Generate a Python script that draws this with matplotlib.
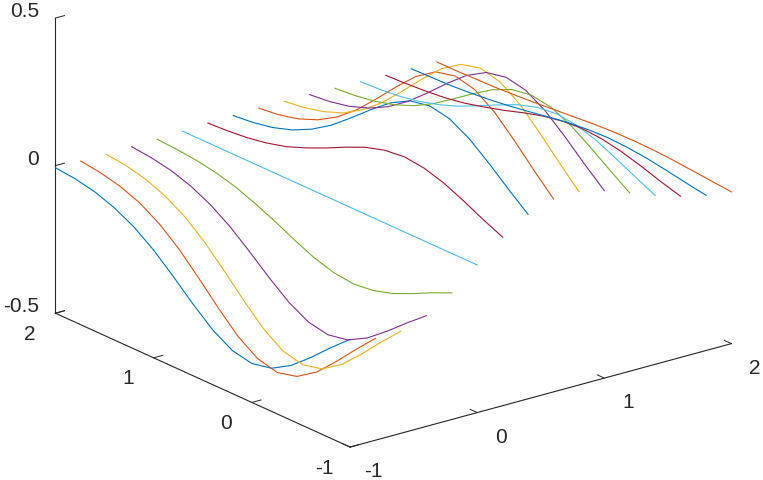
import matplotlib
matplotlib.use("Agg")
import matplotlib.pyplot as plt

plt.rcParams["font.family"] = ["Liberation Sans", "DejaVu Sans"]
plt.rcParams["axes.unicode_minus"] = False

# one line per x value, z read along y = 2 ... -1
x_vals = [-1.0, -0.8, -0.6, -0.4, -0.2, 0.0, 0.2, 0.4, 0.6, 0.8, 1.0, 1.2, 1.4, 1.6, 1.8, 2.0]
y_vals = [2.0, 1.8, 1.6, 1.4, 1.2, 1.0, 0.8, 0.6, 0.4, 0.2, 0.0, -0.2, -0.4, -0.6, -0.8, -1.0]

z_01 = [-0.007, -0.014, -0.028, -0.052, -0.087, -0.135, -0.194, -0.257, -0.314, -0.354, -0.368, -0.354, -0.314, -0.257, -0.194, -0.135]
z_02 = [-0.008, -0.017, -0.033, -0.059, -0.100, -0.155, -0.223, -0.294, -0.360, -0.405, -0.422, -0.405, -0.360, -0.294, -0.223, -0.155]
z_03 = [-0.008, -0.016, -0.032, -0.059, -0.099, -0.154, -0.221, -0.292, -0.357, -0.403, -0.419, -0.403, -0.357, -0.292, -0.221, -0.154]
z_04 = [-0.006, -0.013, -0.026, -0.048, -0.081, -0.125, -0.180, -0.238, -0.291, -0.328, -0.341, -0.328, -0.291, -0.238, -0.180, -0.125]
z_05 = [-0.004, -0.008, -0.015, -0.027, -0.045, -0.071, -0.101, -0.134, -0.164, -0.184, -0.192, -0.184, -0.164, -0.134, -0.101, -0.071]
z_06 = [0.000, 0.000, 0.000, 0.000, 0.000, 0.000, 0.000, 0.000, 0.000, 0.000, 0.000, 0.000, 0.000, 0.000, 0.000, 0.000]
z_07 = [0.004, 0.008, 0.015, 0.027, 0.045, 0.071, 0.101, 0.134, 0.164, 0.184, 0.192, 0.184, 0.164, 0.134, 0.101, 0.071]
z_08 = [0.006, 0.013, 0.026, 0.048, 0.081, 0.125, 0.180, 0.238, 0.291, 0.328, 0.341, 0.328, 0.291, 0.238, 0.180, 0.125]
z_09 = [0.008, 0.016, 0.032, 0.059, 0.099, 0.154, 0.221, 0.292, 0.357, 0.403, 0.419, 0.403, 0.357, 0.292, 0.221, 0.154]
z_10 = [0.008, 0.017, 0.033, 0.059, 0.100, 0.155, 0.223, 0.294, 0.360, 0.405, 0.422, 0.405, 0.360, 0.294, 0.223, 0.155]
z_11 = [0.007, 0.014, 0.028, 0.052, 0.087, 0.135, 0.194, 0.257, 0.314, 0.354, 0.368, 0.354, 0.314, 0.257, 0.194, 0.135]
z_12 = [0.005, 0.011, 0.022, 0.040, 0.067, 0.104, 0.150, 0.198, 0.242, 0.273, 0.284, 0.273, 0.242, 0.198, 0.150, 0.104]
z_13 = [0.004, 0.008, 0.015, 0.028, 0.047, 0.072, 0.104, 0.137, 0.168, 0.189, 0.197, 0.189, 0.168, 0.137, 0.104, 0.072]
z_14 = [0.002, 0.005, 0.010, 0.017, 0.029, 0.046, 0.065, 0.087, 0.106, 0.119, 0.124, 0.119, 0.106, 0.087, 0.065, 0.046]
z_15 = [0.001, 0.003, 0.005, 0.010, 0.017, 0.026, 0.037, 0.049, 0.060, 0.067, 0.070, 0.067, 0.060, 0.049, 0.037, 0.026]
z_16 = [0.001, 0.001, 0.003, 0.005, 0.009, 0.014, 0.020, 0.026, 0.032, 0.036, 0.037, 0.036, 0.032, 0.026, 0.020, 0.014]
z_lines = [z_01, z_02, z_03, z_04, z_05, z_06, z_07, z_08, z_09, z_10, z_11, z_12, z_13, z_14, z_15, z_16]

colors = ["#0072BD", "#D95319", "#EDB120", "#7E2F8E", "#77AC30", "#4DBEEE", "#A2142F"]

fig = plt.figure(figsize=(7.63, 4.8), dpi=100)
# 3d axes are forced square, so make it bigger than the figure
side = 900
ax = fig.add_axes([-68.75 / 763, -163 / 480, side / 763, side / 480], projection="3d", proj_type="ortho")
ax.view_init(elev=20.55, azim=-127.7)
ax.set_box_aspect((1, 1, 0.654), zoom=0.81)

for i, z in enumerate(z_lines):
    ax.plot([x_vals[i]] * len(y_vals), y_vals, z, color=colors[i % 7], lw=0.8)

ax.set_xlim(-1, 2)
ax.set_ylim(-1, 2)
ax.set_zlim(-0.5, 0.5)
ax.set_xticks([-1, 0, 1, 2])
ax.set_yticks([-1, 0, 1, 2])
ax.set_zticks([-0.5, 0, 0.5])
ax.set_xticklabels(["-1", "0", "1", "2"])
ax.set_yticklabels(["-1", "0", "1", "2"])
ax.set_zticklabels(["-0.5", "0", "0.5"])
ax.grid(False)
for axis in (ax.xaxis, ax.yaxis, ax.zaxis):
    axis.set_pane_color((1, 1, 1, 0))
    axis.pane.set_edgecolor((1, 1, 1, 0))
    axis.line.set_color("#262626")
    axis.line.set_linewidth(0.8)
    axis._axinfo["tick"]["color"] = "#262626"
    axis._axinfo["tick"]["linewidth"] = {True: 0.7, False: 0.5}
    axis._axinfo["tick"]["inward_factor"] = 0.0
    axis._axinfo["tick"]["outward_factor"] = 0.3
ax.tick_params(labelsize=15, colors="#262626")
ax.xaxis.set_tick_params(pad=19)
ax.yaxis.set_tick_params(pad=14.5)
ax.zaxis.set_tick_params(pad=0)
plt.setp(ax.get_xticklabels(), va="bottom")
plt.setp(ax.get_yticklabels(), va="baseline")
plt.setp(ax.get_zticklabels(), va="baseline", ha="right")

fig.savefig("out.png", dpi=100)
